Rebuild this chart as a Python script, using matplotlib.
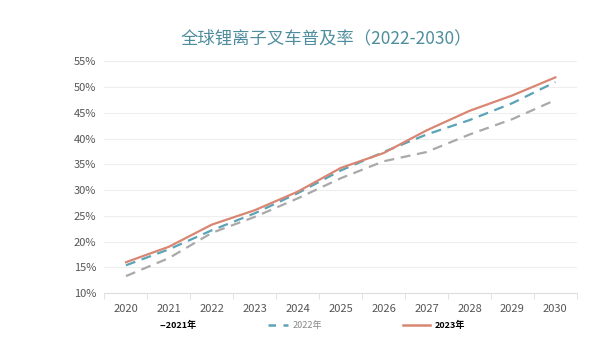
import matplotlib
matplotlib.use('Agg')
import matplotlib.pyplot as plt
from matplotlib.lines import Line2D
from matplotlib.ticker import FuncFormatter

plt.rcParams['font.family'] = ['Noto Sans CJK SC', 'DejaVu Sans']

years = ['2020', '2021', '2022', '2023', '2024', '2025', '2026', '2027', '2028', '2029', '2030']
s2021 = [13.3, 16.8, 21.7, 24.8, 28.4, 32.3, 35.6, 37.4, 40.8, 43.8, 47.5]
s2022 = [15.4, 18.5, 22.2, 25.5, 29.4, 33.8, 37.4, 40.8, 43.6, 46.9, 51.0]
s2023 = [16.0, 19.0, 23.3, 26.1, 29.7, 34.3, 37.2, 41.6, 45.4, 48.4, 51.9]

gray = '#a9a9a9'
blue = '#5ba3b6'
red = '#d98672'

fig = plt.figure(figsize=(6.04, 3.51), dpi=100)
ax = fig.add_axes([0.173, 0.165, 0.782, 0.66])

x = range(len(years))
ax.plot(x, s2021, color=gray, lw=1.6, dashes=(4.5, 3))
ax.plot(x, s2022, color=blue, lw=1.6, dashes=(4.5, 3))
ax.plot(x, s2023, color=red, lw=1.6)

ax.set_xlim(-0.5, len(years) - 0.5)
ax.set_ylim(10, 55)
ax.set_yticks(range(10, 56, 5))
ax.yaxis.set_major_formatter(FuncFormatter(lambda v, p: f'{int(v)}%'))
ax.set_xticks(list(x))
ax.set_xticklabels(years)
ax.set_xticks([i - 0.5 for i in range(len(years) + 1)], minor=True)
ax.tick_params(axis='x', which='major', length=0, pad=8, labelsize=8, colors='#555555')
ax.tick_params(axis='x', which='minor', length=4, color='#dddddd')
ax.tick_params(axis='y', length=0, pad=6, labelsize=8, colors='#555555')
ax.grid(axis='y', color='#eeeeee', lw=0.8)
for s in ['top', 'right', 'left']:
    ax.spines[s].set_visible(False)
ax.spines['bottom'].set_color('#dddddd')

fig.text(0.54, 0.89, '全球锂离子叉车普及率（2022-2030）', ha='center', va='center',
         fontsize=12.5, color='#4e8e9c')

# legend: three separate entries, laid out like the original
entries = [
    (Line2D([], [], color='none'), '--2021年', 'black', 'bold', 0.265, 0.0),
    (Line2D([], [], color=blue, lw=1.8, dashes=(3, 3)), '2022年', '#888888', 'normal', 0.444, 2.2),
    (Line2D([], [], color=red, lw=1.8), '2023年', 'black', 'bold', 0.667, 3.0),
]
for h, lab, col, wt, xpos, hl in entries:
    lg = fig.legend([h], [lab], loc='center left', bbox_to_anchor=(xpos, 0.073),
                    frameon=False, fontsize=6.5, handlelength=hl,
                    handletextpad=0.5 if hl else 0, borderpad=0, borderaxespad=0)
    for t in lg.get_texts():
        t.set_color(col)
        t.set_fontweight(wt)

fig.savefig('out.png', dpi=100)
